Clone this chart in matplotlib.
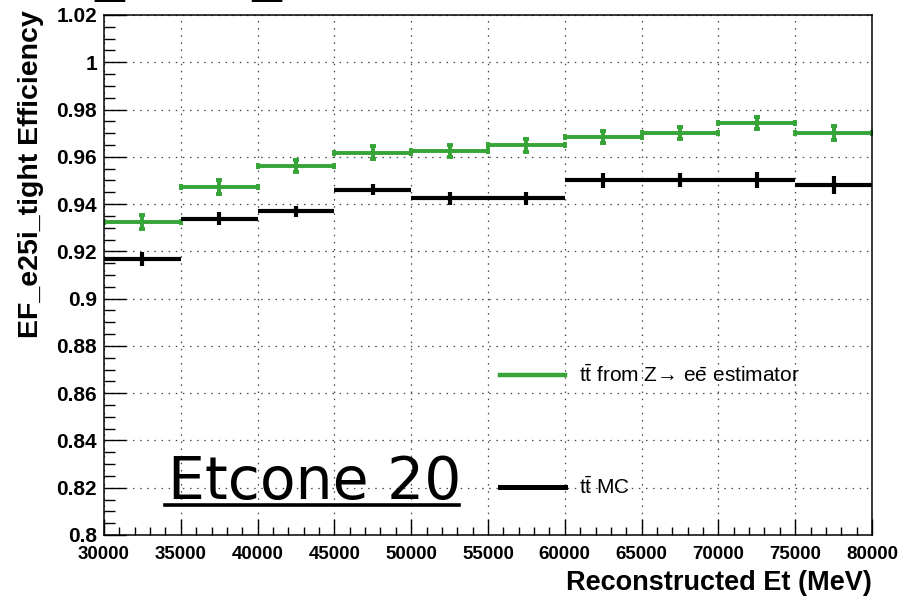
import numpy as np
import matplotlib
matplotlib.use("Agg")
import matplotlib.pyplot as plt
from matplotlib.lines import Line2D
from matplotlib.ticker import MultipleLocator

plt.rcParams['font.family'] = ['Liberation Sans', 'DejaVu Sans']
plt.rcParams['mathtext.fontset'] = 'custom'
plt.rcParams['mathtext.rm'] = 'Liberation Sans'
plt.rcParams['mathtext.it'] = 'Liberation Sans'

# Et bins (MeV)
bin_edges = [30000, 35000, 40000, 45000, 50000, 55000, 60000, 65000, 70000, 75000, 80000]

# efficiency from the Z->ee tag and probe estimator
eff_zee = [0.9324, 0.9472, 0.9561, 0.9617, 0.9625, 0.9649, 0.9684, 0.9701, 0.9744, 0.9701]
err_zee = [0.0029, 0.0030, 0.0027, 0.0027, 0.0027, 0.0028, 0.0027, 0.0027, 0.0026, 0.0031]

# efficiency from ttbar MC truth
eff_mc = [0.9169, 0.9338, 0.9369, 0.9461, 0.9425, 0.9425, 0.9501, 0.9501, 0.9501, 0.9480]
err_mc = [0.0030, 0.0027, 0.0025, 0.0024, 0.0028, 0.0028, 0.0032, 0.0029, 0.0034, 0.0037]

labels = [r'$t\bar{t}$ from Z→ e$\bar{e}$ estimator', r'$t\bar{t}$ MC']

green = '#36a436'

edges = np.array(bin_edges, dtype=float)
centers = 0.5 * (edges[1:] + edges[:-1])
half_w = 0.5 * np.diff(edges)

fig = plt.figure(figsize=(9.04, 6.0), dpi=100)
ax = fig.add_axes([104 / 904, 65 / 600, 768 / 904, 520 / 600])

ax.errorbar(centers, eff_zee, xerr=half_w, yerr=err_zee, fmt='none',
            ecolor=green, elinewidth=2.8, capsize=2.2, capthick=2.8)
ax.errorbar(centers, eff_mc, xerr=half_w, yerr=err_mc, fmt='none',
            ecolor='black', elinewidth=3.0, capsize=0)

ax.set_xlim(30000, 80000)
ax.set_ylim(0.8, 1.02)
ax.xaxis.set_major_locator(MultipleLocator(5000))
ax.xaxis.set_minor_locator(MultipleLocator(1000))
ax.yaxis.set_major_locator(MultipleLocator(0.02))
ax.yaxis.set_minor_locator(MultipleLocator(0.005))
ax.yaxis.set_major_formatter(plt.FuncFormatter(lambda v, p: f'{v:.2f}'.rstrip('0').rstrip('.')))

ax.grid(True, which='major', color='#444444', linestyle=(0, (1.2, 4.5)), linewidth=0.9)
ax.tick_params(which='both', direction='in', top=False, right=False,
               width=1.0, color='black')
ax.tick_params(axis='x', which='major', length=11.5, pad=8, labelsize=13.5)
ax.tick_params(axis='x', which='minor', length=5.5)
ax.tick_params(axis='y', which='major', length=16, pad=5, labelsize=15)
ax.tick_params(axis='y', which='minor', length=8)
for lab in ax.get_xticklabels() + ax.get_yticklabels():
    lab.set_fontweight('bold')
for sp in ax.spines.values():
    sp.set_linewidth(1.1)

ax.set_ylabel('EF_e25i_tight Efficiency', fontsize=20.5, fontweight='bold', loc='top')
ax.yaxis.set_label_coords(-0.078, 1.01)
ax.set_xlabel('Reconstructed Et (MeV)', fontsize=19.5, fontweight='bold', loc='right')
ax.xaxis.set_label_coords(1.0, -0.068)

handles = [Line2D([], [], color=green, linewidth=3.2),
           Line2D([], [], color='black', linewidth=3.6)]
ax.legend(handles, labels, loc='upper left', bbox_to_anchor=(0.516, 0.328), frameon=False,
          fontsize=15, handlelength=3.1, handletextpad=0.7,
          labelspacing=4.3, borderpad=0, borderaxespad=0)

# title text running off the top edge
fig.text(24 / 904, 1 + 12 / 600, 'EF_e25i_tight', family='DejaVu Sans',
         fontsize=42.5, va='baseline', ha='left')

fig.text(168 / 904, 1 - 499 / 600, 'Etcone 20', family='DejaVu Sans',
         fontsize=42, va='baseline', ha='left')
fig.add_artist(Line2D([165 / 904, 459 / 904], [1 - 505 / 600, 1 - 505 / 600],
                      color='black', linewidth=2.6, transform=fig.transFigure))

fig.savefig('out.png', dpi=100)
